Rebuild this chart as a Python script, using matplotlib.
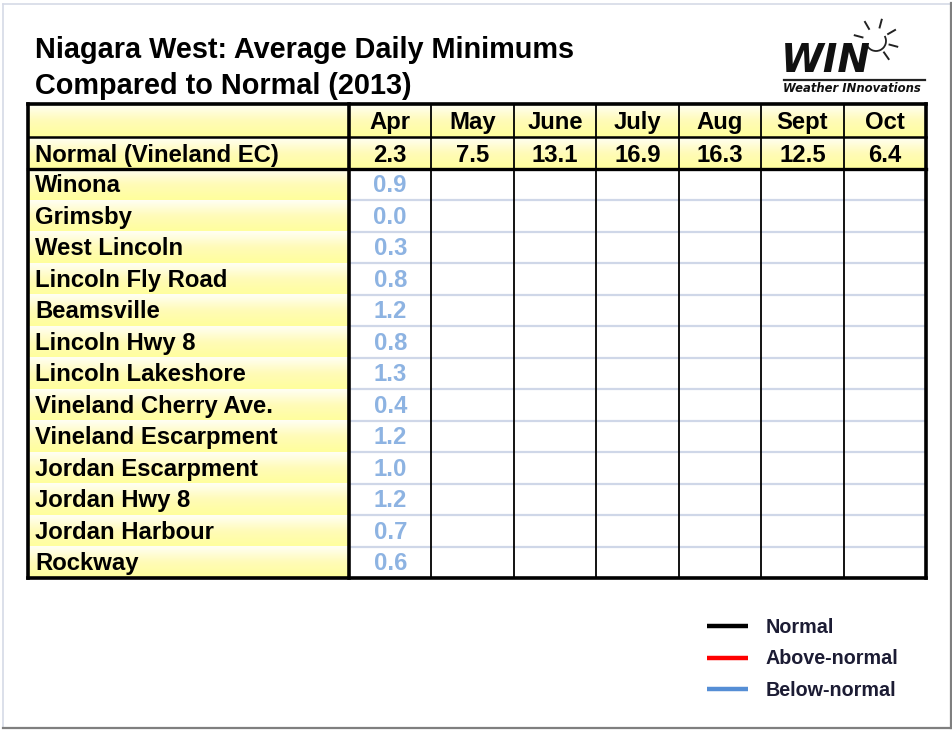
import numpy as np
import matplotlib
matplotlib.use("Agg")
import matplotlib.pyplot as plt
from matplotlib.colors import LinearSegmentedColormap
from matplotlib.patches import Arc

# ---------------- data ----------------
title_lines = ["Niagara West: Average Daily Minimums", "Compared to Normal (2013)"]
months = ["Apr", "May", "June", "July", "Aug", "Sept", "Oct"]
normal_label = "Normal (Vineland EC)"
normals = [2.3, 7.5, 13.1, 16.9, 16.3, 12.5, 6.4]
stations = ["Winona", "Grimsby", "West Lincoln", "Lincoln Fly Road", "Beamsville",
            "Lincoln Hwy 8", "Lincoln Lakeshore", "Vineland Cherry Ave.",
            "Vineland Escarpment", "Jordan Escarpment", "Jordan Hwy 8",
            "Jordan Harbour", "Rockway"]
apr_values = [0.9, 0.0, 0.3, 0.8, 1.2, 0.8, 1.3, 0.4, 1.2, 1.0, 1.2, 0.7, 0.6]
legend_labels = ["Normal", "Above-normal", "Below-normal"]
legend_colors = ["#000000", "#ff0000", "#558ed5"]

# ---------------- styling ----------------
W, H = 953, 730
FONT = "Liberation Sans"
BLUE_VAL = "#8db3e2"
ygrad = LinearSegmentedColormap.from_list("yg", ["#fffff4", "#fffbb8", "#ffff9c"])

fig = plt.figure(figsize=(W / 100, H / 100), dpi=100)
ax = fig.add_axes([0, 0, 1, 1])
ax.set_xlim(0, W)
ax.set_ylim(H, 0)
ax.axis("off")

# slide frame
ax.plot([3.5, 950.5], [3.5, 3.5], color="#d6dae6", lw=1.2)
ax.plot([3.5, 3.5], [3.5, 727], color="#d6dae6", lw=1.2)
ax.plot([951, 951], [3, 728], color="#7f7f7f", lw=1.6)
ax.plot([3, 951], [727.5, 727.5], color="#7f7f7f", lw=1.6)

# title
ax.text(35, 57.5, title_lines[0], fontsize=20.8, fontweight="bold", family=FONT,
        va="baseline", ha="left", color="#000000")
ax.text(35, 93.5, title_lines[1], fontsize=20.8, fontweight="bold", family=FONT,
        va="baseline", ha="left", color="#000000")

# table geometry
x_left, x_lab = 28, 349
x_right = 926
col_edges = np.linspace(x_lab, x_right, len(months) + 1)
y_top, y_head, y_norm = 104, 137, 169
y_bottom = 578
row_edges = np.linspace(y_norm, y_bottom, len(stations) + 1)

grad = np.linspace(0, 1, 64).reshape(-1, 1)

def grad_cell(x0, x1, y0, y1):
    ax.imshow(grad, cmap=ygrad, extent=[x0, x1, y1, y0], aspect="auto",
              interpolation="bilinear", zorder=1)

# header rows gradient
grad_cell(x_left, x_right, y_top, y_head)
grad_cell(x_left, x_right, y_head, y_norm)
# label column gradient
for i in range(len(stations)):
    grad_cell(x_left, x_lab, row_edges[i], row_edges[i + 1])

# light horizontal separators in data area
for y in row_edges[1:-1]:
    ax.plot([x_lab, x_right], [y, y], color="#cfd7e8", lw=1.6, zorder=2)

# vertical month separators (thin black)
for x in col_edges[1:-1]:
    ax.plot([x, x], [y_top, y_bottom], color="#000000", lw=1.3, zorder=3)

# thick borders
ax.plot([x_left, x_right], [y_top, y_top], color="#000000", lw=2.6, zorder=4)
ax.plot([x_left, x_right], [y_head, y_head], color="#000000", lw=1.8, zorder=4)
ax.plot([x_left, x_right], [y_norm, y_norm], color="#000000", lw=2.4, zorder=4)
ax.plot([x_left, x_right], [y_bottom, y_bottom], color="#000000", lw=2.6, zorder=4)
ax.plot([x_left, x_left], [y_top, y_bottom], color="#000000", lw=2.6, zorder=4)
ax.plot([x_lab, x_lab], [y_top, y_bottom], color="#000000", lw=2.6, zorder=4)
ax.plot([x_right, x_right], [y_top, y_bottom], color="#000000", lw=2.6, zorder=4)

FS = 17.2
centers = (col_edges[:-1] + col_edges[1:]) / 2
for j, m in enumerate(months):
    ax.text(centers[j], y_head - 8, m, fontsize=FS, fontweight="bold", family=FONT,
            ha="center", va="baseline", zorder=5)
    ax.text(centers[j], y_norm - 7, f"{normals[j]:.1f}", fontsize=FS, fontweight="bold",
            family=FONT, ha="center", va="baseline", zorder=5)
ax.text(35, y_norm - 7, normal_label, fontsize=FS, fontweight="bold", family=FONT,
        ha="left", va="baseline", zorder=5)

for i, s in enumerate(stations):
    yb = row_edges[i + 1] - 8
    ax.text(35, yb, s, fontsize=FS, fontweight="bold", family=FONT,
            ha="left", va="baseline", zorder=5)
    if i < len(apr_values):
        ax.text(centers[0], yb, f"{apr_values[i]:.1f}", fontsize=FS, fontweight="bold",
                family=FONT, ha="center", va="baseline", color=BLUE_VAL, zorder=5)

# legend
for k, (lab, c) in enumerate(zip(legend_labels, legend_colors)):
    y = 626 + k * 31.5
    ax.plot([707, 748], [y, y], color=c, lw=3.2, solid_capstyle="butt")
    ax.text(766, y + 1.5, lab, fontsize=14.2, fontweight="bold", family=FONT,
            ha="left", va="center", color="#1c1c34")

# logo
ax.text(781, 72, "WIN", fontsize=28, fontweight="bold", style="oblique",
        family="DejaVu Sans", ha="left", va="baseline", color="#111111")
ax.plot([784, 925], [80, 80], color="#222222", lw=1.6)
ax.text(783, 92, "Weather INnovations", fontsize=8.4, fontweight="bold", style="oblique",
        family="DejaVu Sans", ha="left", va="baseline", color="#111111")
cx, cy = 876, 41
ax.add_patch(Arc((cx, cy), 20, 20, theta1=-30, theta2=160, color="#222222", lw=1.3))
for ang in [165, 120, 75, 30, -15, -55]:
    a = np.deg2rad(ang)
    r0, r1 = 14, 22
    ax.plot([cx + r0 * np.cos(a), cx + r1 * np.cos(a)],
            [cy - r0 * np.sin(a), cy - r1 * np.sin(a)], color="#222222", lw=1.4)

fig.savefig("out.png", dpi=100)
